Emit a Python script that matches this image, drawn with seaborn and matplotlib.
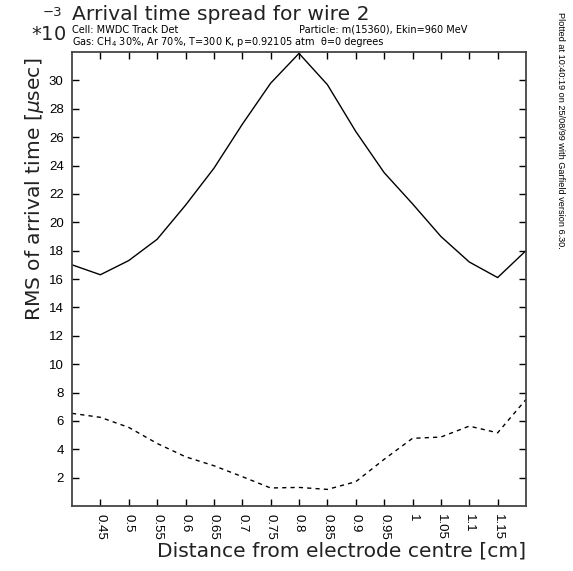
import numpy as np
import pandas as pd
import matplotlib
matplotlib.use("Agg")
import matplotlib.pyplot as plt
import seaborn as sns

distance = [0.40, 0.45, 0.50, 0.55, 0.60, 0.65, 0.70, 0.75, 0.80,
            0.85, 0.90, 0.95, 1.00, 1.05, 1.10, 1.15, 1.20]
rms_solid = [17.0, 16.3, 17.3, 18.8, 21.2, 23.8, 26.9, 29.8, 31.9,
             29.7, 26.4, 23.5, 21.3, 19.0, 17.2, 16.1, 18.0]
rms_dashed = [6.53, 6.25, 5.54, 4.41, 3.47, 2.84, 2.07, 1.27, 1.31,
              1.17, 1.71, 3.29, 4.77, 4.86, 5.63, 5.16, 7.51]
xticks = [0.45, 0.5, 0.55, 0.6, 0.65, 0.7, 0.75, 0.8, 0.85, 0.9, 0.95, 1.0, 1.05, 1.1, 1.15]
xticklabels = ["0.45", "0.5", "0.55", "0.6", "0.65", "0.7", "0.75", "0.8", "0.85",
               "0.9", "0.95", "1", "1.05", "1.1", "1.15"]
yticks = list(range(2, 31, 2))

sns.set_theme(style="white")
plt.rcParams['font.family'] = ['DejaVu Sans']

df = pd.DataFrame({"d": distance, "solid": rms_solid, "dashed": rms_dashed})

fig = plt.figure(figsize=(5.73, 5.71), dpi=100)
ax = fig.add_axes([72/573, 1-506/571, (526-72)/573, (506-52)/571])

sns.lineplot(data=df, x="d", y="solid", ax=ax, color="black", linewidth=1.0)
sns.lineplot(data=df, x="d", y="dashed", ax=ax, color="black", linewidth=1.0,
             linestyle=(0, (3, 3)))

ax.set_xlim(0.4, 1.2)
ax.set_ylim(0, 32)
ax.set_xticks(xticks)
ax.set_xticklabels(xticklabels, rotation=270, family="Liberation Sans", fontsize=9.5)
ax.set_yticks(yticks)
ax.set_yticklabels([str(v) for v in yticks], family="Liberation Sans", fontsize=9.5)
ax.tick_params(direction="in", length=5, width=1, top=True, right=True,
               bottom=True, left=True, colors="black", pad=6)
for s in ax.spines.values():
    s.set_color("#444444")
    s.set_linewidth(1.3)
ax.set_xlabel("")
ax.set_ylabel("")

light = dict(family="DejaVu Sans", color="#222222")
fig.text(526/573, 1-551/571, "Distance from electrode centre [cm]",
         ha="right", va="center", fontsize=14.6, **light)
fig.text(35/573, 1-58/571, "RMS of arrival time [$\\mu$sec]",
         ha="center", va="top", rotation=90, fontsize=14.6, **light)
fig.text(72/573, 1-15/571, "Arrival time spread for wire 2",
         ha="left", va="center", fontsize=14.6, **light)
fig.text(66/573, 1-34/571, "$*$10", ha="right", va="center", fontsize=14, **light)
fig.text(43/573, 1-13/571, "\u22123", ha="left", va="center", fontsize=9.5, **light)

small = dict(family="DejaVu Sans", fontsize=7.0, color="black")
fig.text(72/573, 1-30/571, "Cell: MWDC Track Det", ha="left", va="center", **small)
fig.text(72/573, 1-42/571, "Gas: CH$_4$ 30%, Ar 70%, T=300 K, p=0.92105 atm",
         ha="left", va="center", **small)
fig.text(299/573, 1-30/571, "Particle: m(15360), Ekin=960 MeV", ha="left", va="center", **small)
fig.text(321/573, 1-42/571, "\u03b8=0 degrees", ha="left", va="center", **small)

fig.text(560/573, 1-12/571, "Plotted at 10:40:19 on 25/08/99 with Garfield version 6.30.",
         ha="center", va="top", rotation=270, family="Liberation Sans", fontsize=6.6,
         color="black")

fig.savefig("out.png", dpi=100)
